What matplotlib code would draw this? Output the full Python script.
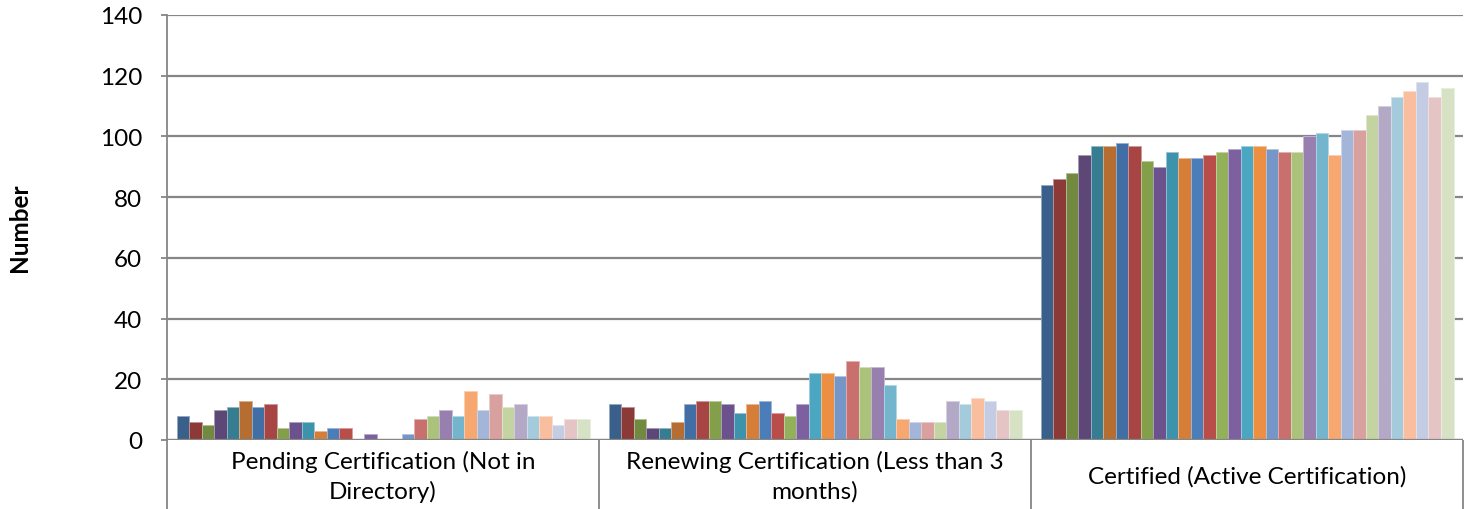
import matplotlib
matplotlib.use("Agg")
import matplotlib.pyplot as plt
import matplotlib.colors as mcolors
import matplotlib.transforms as mtransforms
import numpy as np

categories = ["Pending Certification (Not in\nDirectory)",
              "Renewing Certification (Less than 3\nmonths)",
              "Certified (Active Certification)"]

pending = [8, 6, 5, 10, 11, 13, 11, 12, 4, 6, 6, 3, 4, 4, 0, 2, 0, 0, 2, 7, 8, 10, 8, 16, 10, 15, 11, 12, 8, 8, 5, 7, 7]
renewing = [12, 11, 7, 4, 4, 6, 12, 13, 13, 12, 9, 12, 13, 9, 8, 12, 22, 22, 21, 26, 24, 24, 18, 7, 6, 6, 6, 13, 12, 14, 13, 10, 10]
certified = [84, 86, 88, 94, 97, 97, 98, 97, 92, 90, 95, 93, 93, 94, 95, 96, 97, 97, 96, 95, 95, 100, 101, 94, 102, 102, 107, 110, 113, 115, 118, 113, 116]

colors = ["#3A5F8B", "#8B3A38", "#728A3F", "#5D4777", "#367D91", "#B56D32",
          "#416EA5", "#A64543", "#849F4A", "#6C528C", "#3E93AC", "#D67E38",
          "#4A7DBA", "#B94D4A", "#93B05A", "#7D60A0", "#4BA6C2", "#EC8F42",
          "#7696C7", "#C9706E", "#AAC27A", "#9780B0", "#73B5CD", "#F6A870",
          "#A3B5D8", "#D8A09F", "#C3D3A2", "#B3A8C6", "#A4CBDB", "#F9BE9D",
          "#C3CCE3", "#E4C4C4", "#D7E1C4"]

yticks = [0, 20, 40, 60, 80, 100, 120, 140]

plt.rcParams['font.family'] = ['Lato', 'DejaVu Sans']

fig = plt.figure(figsize=(14.71, 5.10), dpi=100)
ax = fig.add_axes([167/1471, 69/510, (1463-167)/1471, (441-16)/510])

n = len(colors)
group_w = 413/432
w = group_w / n
x = np.arange(len(categories))
data = np.array([pending, renewing, certified])

def lighten(c, f=0.45):
    r, g, b = mcolors.to_rgb(c)
    return (r + (1-r)*f, g + (1-g)*f, b + (1-b)*f)

for i in range(n):
    ax.bar(x + (i - (n-1)/2) * w, data[:, i], width=w, color=colors[i],
           edgecolor=lighten(colors[i]), linewidth=0.6, zorder=3)

ax.set_xlim(-0.5, 2.5)
ax.set_ylim(0, 140)
ax.set_yticks(yticks)
ax.yaxis.grid(True, color="#868686", linewidth=1.6, zorder=0)
ax.set_axisbelow(True)

for s in ["top", "right", "bottom"]:
    ax.spines[s].set_visible(False)
ax.spines["left"].set_color("#868686")
ax.spines["left"].set_linewidth(1.3)

ax.tick_params(axis="y", length=4, width=1.3, color="#868686", labelsize=17.5, pad=14)
ax.set_xticks(x)
ax.set_xticklabels([""] * len(categories))
ax.tick_params(axis="x", which="major", length=0)
ax.set_xticks([-0.5, 0.5, 1.5, 2.5], minor=True)
ax.tick_params(axis="x", which="minor", length=50, width=1.3, color="#868686")
ax.axhline(0, color="#868686", linewidth=1.6, zorder=4)

trans = mtransforms.blended_transform_factory(ax.transData, ax.transAxes)
label_y = -(477 - 441) / (441 - 16)
for xi, lab in zip(x, categories):
    ax.text(xi, label_y, lab, transform=trans, ha="center", va="center",
            fontsize=17.5, linespacing=1.45)

fig.text(20/1471, 1 - 228/510, "Number", rotation=90, fontsize=17.5, fontweight="bold",
         ha="center", va="center")

fig.savefig("out.png", dpi=100)
